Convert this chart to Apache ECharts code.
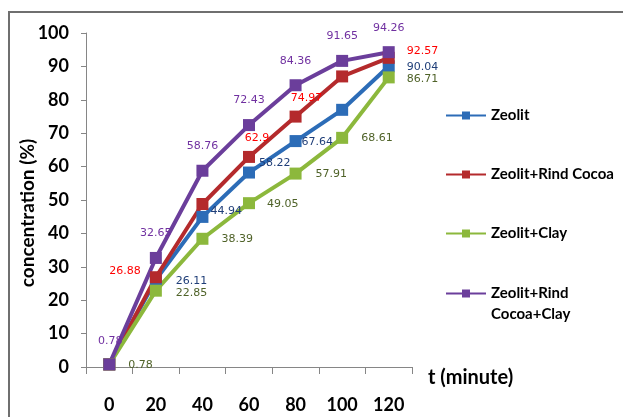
<!DOCTYPE html>
<html>
<head>
<meta charset="utf-8">
<script src="https://cdn.jsdelivr.net/npm/echarts@6/dist/echarts.min.js"></script>
<style>
  html, body { margin: 0; padding: 0; background: #fff; }
  #chart { width: 623px; height: 417px; }
</style>
</head>
<body>
<div id="chart"></div>
<script>
  // data
  var times = ['0', '20', '40', '60', '80', '100', '120']
  var seriesNames = ['Zeolit', 'Zeolit+Rind Cocoa', 'Zeolit+Clay', 'Zeolit+Rind\nCocoa+Clay']
  var zeolit = [0.78, 26.11, 44.94, 58.22, 67.64, 77.0, 90.04]
  var zeolitCocoa = [0.78, 26.88, 48.8, 62.9, 74.97, 87.0, 92.57]
  var zeolitClay = [0.78, 22.85, 38.39, 49.05, 57.91, 68.61, 86.71]
  var zeolitCocoaClay = [0.78, 32.65, 58.76, 72.43, 84.36, 91.65, 94.26]
  var yTicks = [0, 100, 10] // min, max, step

  var lineColors = ['#2c6cb7', '#b42a2c', '#8cb83c', '#6b3e9b']
  var labelColors = ['#1f3e78', '#ff0000', '#4f6228', '#7030a0']

  // label placement per point (null = no label shown)
  function lbl(pos, dist, dx, dy) {
    return { show: true, position: pos, distance: dist, offset: [dx || 0, dy || 0] }
  }
  var labelSpecs = [
    [null, lbl('right', 14, 0, 1), lbl('right', 2, 0, -6), lbl('right', 4, 0, -9), lbl('right', 0, 0, 1), null, lbl('right', 12, 0, 1)],
    [null, lbl('left', 9, 0, -6), null, lbl('top', 7, 8), lbl('top', 7, 11), null, lbl('right', 12, 0, -7)],
    [lbl('right', 13, 0, 1), lbl('right', 14, 0, 2), lbl('right', 13), lbl('right', 12, 0, 1), lbl('right', 14, 0, 1), lbl('right', 13), lbl('right', 12, 0, 2)],
    [lbl('top', 12, 1), lbl('top', 13), lbl('top', 13), lbl('top', 13), lbl('top', 13), lbl('top', 13), lbl('top', 13)]
  ]

  var allValues = [zeolit, zeolitCocoa, zeolitClay, zeolitCocoaClay]

  var chart = echarts.init(document.getElementById('chart'))

  var series = allValues.map(function(vals, i) {
    return {
      name: seriesNames[i],
      type: 'line',
      symbol: 'rect',
      symbolSize: 12,
      lineStyle: { width: 4, color: lineColors[i] },
      itemStyle: { color: lineColors[i] },
      label: {
        color: labelColors[i],
        fontFamily: 'DejaVu Sans',
        fontSize: 11
      },
      data: vals.map(function(v, j) {
        var spec = labelSpecs[i][j]
        return { value: v, label: spec ? spec : { show: false } }
      }),
      animation: false
    }
  })

  var legendText = {
    fontFamily: 'Lato',
    fontWeight: 'bold',
    fontSize: 15,
    color: '#000',
    lineHeight: 21
  }

  chart.setOption({
    backgroundColor: '#fff',
    graphic: [{
      type: 'rect',
      shape: { x: 9, y: 12, width: 700, height: 500 },
      style: { fill: 'none', stroke: '#6f6f6f', lineWidth: 2 },
      silent: true
    }],
    grid: {
      left: 86,
      right: 211,
      top: 33,
      bottom: 50
    },
    legend: [{
      orient: 'vertical',
      left: 440,
      top: 100,
      itemWidth: 40,
      itemHeight: 10,
      itemGap: 38,
      lineStyle: { width: 2 },
      textStyle: legendText,
      data: seriesNames.slice(0, 3)
    }, {
      // last entry: icon sits on the first of two text lines
      orient: 'vertical',
      left: 440,
      top: 257,
      itemWidth: 40,
      itemHeight: 10,
      lineStyle: { width: 2 },
      textStyle: legendText,
      formatter: function(name) { return '\n' + name },
      data: seriesNames.slice(3)
    }],
    xAxis: {
      type: 'category',
      data: times,
      boundaryGap: true,
      name: 't (minute)',
      nameLocation: 'end',
      nameGap: 16,
      nameTextStyle: {
        fontFamily: 'Lato',
        fontWeight: 'bold',
        fontSize: 20,
        color: '#000',
        verticalAlign: 'top',
        padding: [1, 0, 0, 0]
      },
      axisLine: { show: true, lineStyle: { color: '#868686', width: 1 } },
      axisTick: { show: true, length: 7, lineStyle: { color: '#868686' } },
      axisLabel: {
        margin: 29,
        fontFamily: 'Lato',
        fontWeight: 'bold',
        fontSize: 18,
        color: '#000'
      },
      splitLine: { show: false }
    },
    yAxis: {
      type: 'value',
      min: yTicks[0],
      max: yTicks[1],
      interval: yTicks[2],
      name: 'concentration (%)',
      nameLocation: 'middle',
      nameGap: 49,
      nameMoveOverlap: false,
      nameTextStyle: {
        fontFamily: 'Lato',
        fontWeight: 'bold',
        fontSize: 19,
        color: '#000',
        padding: [0, 26, 0, 0]
      },
      axisLine: { show: true, lineStyle: { color: '#868686', width: 1 } },
      axisTick: { show: true, length: 5, lineStyle: { color: '#868686' } },
      axisLabel: {
        margin: 17,
        fontFamily: 'Lato',
        fontWeight: 'bold',
        fontSize: 18,
        color: '#000'
      },
      splitLine: { show: false }
    },
    series: series
  })
</script>
</body>
</html>
